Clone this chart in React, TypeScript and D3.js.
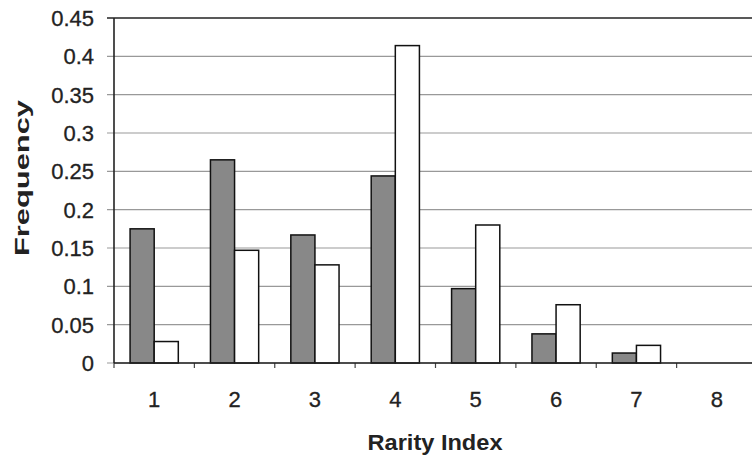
import React from 'react'
import * as d3 from 'd3'

const categories = ['1', '2', '3', '4', '5', '6', '7', '8']
const seriesGray = [0.175, 0.265, 0.167, 0.244, 0.097, 0.038, 0.013, 0]
const seriesWhite = [0.028, 0.147, 0.128, 0.414, 0.18, 0.076, 0.023, 0]
const yTicks = [0, 0.05, 0.1, 0.15, 0.2, 0.25, 0.3, 0.35, 0.4, 0.45]

const width = 752
const height = 458
const left = 114
const right = 757
const top = 18
const bottom = 363

const App: React.FC = () => {
  const xScale = d3.scaleBand().domain(categories).range([left, right]).paddingInner(0).paddingOuter(0)
  const yScale = d3.scaleLinear().domain([0, 0.45]).range([bottom, top])
  const bw = xScale.bandwidth()
  const barW = bw * 0.3
  const groupOffset = (bw - barW * 2) / 2

  const fmt = (v: number) => (v === 0 ? '0' : String(+v.toFixed(2)))

  return (
    <svg width={width} height={height} style={{ position: 'absolute', left: 0, top: 0, background: '#fff' }}
      fontFamily="'Liberation Sans', Arial, sans-serif">
      {yTicks.map(t => (
        <g key={t}>
          <line x1={left - 7} x2={right} y1={yScale(t)} y2={yScale(t)}
            stroke={t === 0.45 ? '#222' : '#999'} strokeWidth={t === 0.45 ? 1.6 : 1.2} />
          <text x={left - 20} y={yScale(t)} dy="0.36em" textAnchor="end" fontSize={22} fill="#222"
            stroke="#222" strokeWidth={0.3}>{fmt(t)}</text>
        </g>
      ))}
      {categories.map((c, i) => {
        const x0 = (xScale(c) as number) + groupOffset
        return (
          <g key={c}>
            <rect x={x0} y={yScale(seriesGray[i])} width={barW} height={bottom - yScale(seriesGray[i])}
              fill="#888" stroke="#111" strokeWidth={1.5} />
            <rect x={x0 + barW} y={yScale(seriesWhite[i])} width={barW} height={bottom - yScale(seriesWhite[i])}
              fill="#fff" stroke="#111" strokeWidth={1.5} />
            <text x={(xScale(c) as number) + bw / 2} y={407} textAnchor="middle" fontSize={22} fill="#222"
              stroke="#222" strokeWidth={0.3}>{c}</text>
          </g>
        )
      })}
      {categories.map((c, i) => (
        <line key={'t' + i} x1={xScale(c) as number} x2={xScale(c) as number} y1={bottom} y2={bottom + 5} stroke="#444" strokeWidth={1.2} />
      ))}
      <line x1={left} x2={right} y1={bottom} y2={bottom} stroke="#222" strokeWidth={1.6} />
      <line x1={left} x2={left} y1={top} y2={bottom} stroke="#222" strokeWidth={1.6} />
      <text x={435} y={450} textAnchor="middle" fontSize={22} fontWeight="bold" fill="#222"
        textLength={135} lengthAdjust="spacingAndGlyphs">Rarity Index</text>
      <text transform={`translate(29, 178) rotate(-90)`} textAnchor="middle" fontSize={20}
        fontWeight="bold" fill="#222" textLength={156} lengthAdjust="spacingAndGlyphs">Frequency</text>
    </svg>
  )
}

export default App
